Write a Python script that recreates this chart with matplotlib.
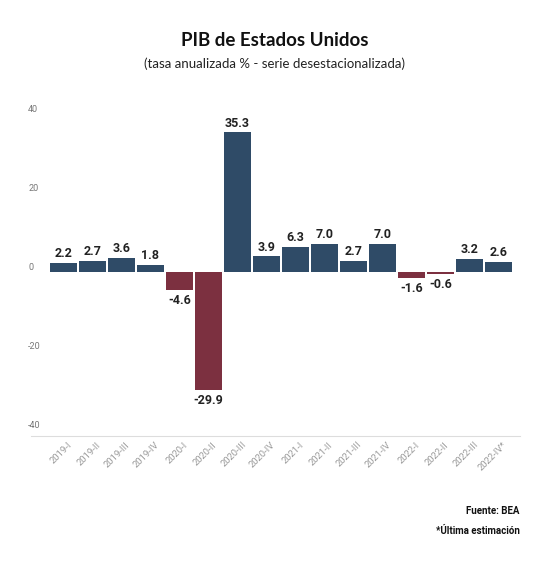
import numpy as np
import matplotlib.pyplot as plt
import matplotlib.transforms as mtransforms

quarters = ['2019-I', '2019-II', '2019-III', '2019-IV',
            '2020-I', '2020-II', '2020-III', '2020-IV',
            '2021-I', '2021-II', '2021-III', '2021-IV',
            '2022-I', '2022-II', '2022-III', '2022-IV*']
growth = [2.2, 2.7, 3.6, 1.8, -4.6, -29.9, 35.3, 3.9,
          6.3, 7.0, 2.7, 7.0, -1.6, -0.6, 3.2, 2.6]
yticks = [-40, -20, 0, 20, 40]

BLUE = '#2f4b67'
RED = '#7c3040'


def main():
    fig = plt.figure(figsize=(5.5, 5.69), dpi=100)
    # axes box in pixels: left 31, right 520, top ~106, bottom 436
    W, H = 550, 569
    ax = fig.add_axes([31 / W, 1 - 436 / H, (520 - 31) / W, (436 - 106) / H])

    x = np.arange(len(growth))
    colors = [BLUE if v >= 0 else RED for v in growth]
    ax.bar(x, growth, width=0.93, color=colors)

    for xi, v in zip(x, growth):
        if v >= 0:
            ax.annotate(f'{v:.1f}', (xi, v), xytext=(0, 2), textcoords='offset points',
                        ha='center', va='bottom', fontsize=9, fontweight='bold',
                        family='Roboto', color='#222222')
        else:
            ax.annotate(f'{v:.1f}', (xi, v), xytext=(0, -3), textcoords='offset points',
                        ha='center', va='top', fontsize=9, fontweight='bold',
                        family='Roboto', color='#222222')

    ax.set_xlim(-1.12, 15.74)
    ax.set_ylim(-41.6, 42)

    ax.set_yticks(yticks)
    ax.set_yticklabels([str(t) for t in yticks], fontsize=6.5, color='#777777',
                       family='Roboto', ha='left', va='bottom')
    ax.tick_params(axis='y', length=0, pad=2)

    ax.set_xticks(x)
    ax.set_xticklabels(quarters, rotation=45, ha='right', rotation_mode='anchor',
                       fontsize=6.8, color='#999999', family='Roboto')
    ax.tick_params(axis='x', length=0, pad=3)
    shift = mtransforms.ScaledTranslation(4 / 100, 0, fig.dpi_scale_trans)
    for lbl in ax.get_xticklabels():
        lbl.set_transform(lbl.get_transform() + shift)

    for s in ['top', 'right', 'left']:
        ax.spines[s].set_visible(False)
    ax.spines['bottom'].set_color('#dddddd')
    ax.spines['bottom'].set_linewidth(0.8)

    fig.text(0.5, 1 - 41 / H, 'PIB de Estados Unidos', ha='center', va='center',
             fontsize=13.5, fontweight='bold', family='Lato', color='#111111')
    fig.text(0.5, 1 - 64 / H, '(tasa anualizada % - serie desestacionalizada)',
             ha='center', va='center', fontsize=9.5, family='Lato', color='#222222')

    fig.text(520 / W, 1 - 511 / H, 'Fuente: BEA', ha='right', va='center',
             fontsize=7, fontweight='bold', family='Roboto', color='#111111')
    fig.text(520 / W, 1 - 531 / H, '*Última estimación', ha='right', va='center',
             fontsize=7, fontweight='bold', family='Roboto', color='#111111')

    fig.savefig('out.png', dpi=100, facecolor='white')
    return 0


if __name__ == '__main__':
    main()
